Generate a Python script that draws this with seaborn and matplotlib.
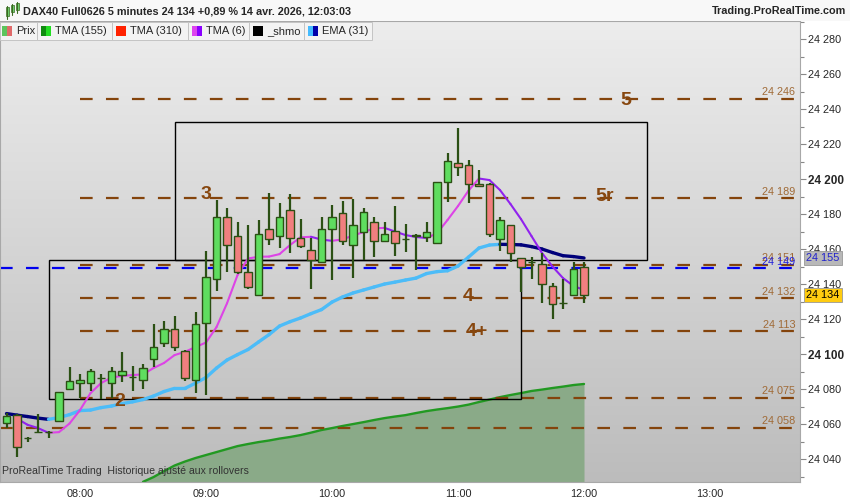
import numpy as np
import pandas as pd
import matplotlib
matplotlib.use("Agg")
import matplotlib.pyplot as plt
import seaborn as sns
from matplotlib.patches import Rectangle
from matplotlib.collections import LineCollection
from matplotlib.colors import LinearSegmentedColormap
from matplotlib.ticker import MultipleLocator, FuncFormatter

# ---------------- data ----------------
times = pd.date_range("2026-04-14 07:25", "2026-04-14 12:00", freq="5min")

opens = [24060.4, 24065.0, 24052.2, 24055.6, 24055.5, 24061.5, 24080.2, 24083.2,
         24083.2, 24086.5, 24083.2, 24088.2, 24087.0, 24085.1, 24097.0, 24106.1,
         24114.1, 24101.9, 24085.0, 24117.9, 24142.7, 24178.1, 24167.2, 24146.7,
         24133.5, 24171.3, 24167.2, 24182.1, 24166.1, 24159.3, 24152.6, 24171.3,
         24180.4, 24162.1, 24169.5, 24175.2, 24164.4, 24170.1, 24165.9, 24167.6,
         24166.7, 24163.2, 24198.1, 24208.9, 24207.8, 24196.9, 24196.9, 24165.5,
         24173.5, 24154.7, 24152.8, 24151.2, 24138.7, 24129.3, 24133.5, 24149.5]
highs = [24066.1, 24066.0, 24052.5, 24065.5, 24056.0, 24078.5, 24092.4, 24088.4,
         24091.4, 24088.4, 24092.4, 24101.1, 24093.1, 24094.3, 24117.0, 24118.9,
         24121.7, 24102.5, 24123.8, 24158.9, 24188.0, 24183.2, 24175.2, 24173.5,
         24176.4, 24191.8, 24186.1, 24191.4, 24177.1, 24166.1, 24178.3, 24185.1,
         24187.4, 24188.4, 24183.2, 24178.3, 24175.2, 24184.6, 24174.3, 24168.5,
         24175.2, 24198.5, 24214.7, 24229.0, 24210.9, 24205.0, 24197.5, 24178.1,
         24174.0, 24155.0, 24155.4, 24157.5, 24140.4, 24142.7, 24152.4, 24152.4]
lows = [24057.5, 24041.3, 24049.5, 24055.0, 24052.0, 24061.0, 24080.0, 24074.7,
        24079.0, 24074.3, 24075.0, 24084.2, 24079.0, 24080.0, 24092.7, 24103.8,
        24101.9, 24084.4, 24077.9, 24076.4, 24135.8, 24146.7, 24146.0, 24137.3,
        24133.0, 24162.1, 24160.4, 24157.5, 24160.4, 24137.3, 24151.8, 24142.5,
        24162.1, 24143.6, 24153.7, 24155.2, 24164.0, 24156.0, 24158.5, 24148.0,
        24164.2, 24163.0, 24187.0, 24202.0, 24186.1, 24195.5, 24167.0, 24158.7,
        24152.4, 24135.6, 24142.7, 24129.3, 24119.8, 24125.5, 24133.0, 24129.0]
closes = [24064.6, 24046.7, 24052.2, 24055.6, 24055.5, 24078.1, 24084.4, 24085.1,
          24090.3, 24086.5, 24090.3, 24090.3, 24087.0, 24092.2, 24103.8, 24114.1,
          24103.8, 24086.1, 24117.0, 24143.8, 24178.1, 24162.1, 24146.9, 24138.5,
          24168.4, 24165.5, 24178.1, 24166.1, 24161.5, 24153.7, 24171.3, 24178.1,
          24164.4, 24173.5, 24180.9, 24164.4, 24168.4, 24163.2, 24165.9, 24168.0,
          24169.5, 24198.1, 24210.1, 24206.7, 24196.9, 24195.8, 24168.4, 24176.6,
          24157.5, 24149.5, 24152.8, 24139.8, 24128.7, 24129.3, 24148.4, 24134.0]

# TMA (6) from bar 1
tma6 = [24063.1, 24059.6, 24057.7, 24055.0, 24055.4, 24060.3, 24068.0, 24077.7,
        24083.4, 24086.6, 24087.5, 24088.0, 24088.4, 24092.0, 24094.9, 24099.4,
        24101.3, 24104.0, 24106.6, 24115.4, 24129.0, 24145.1, 24154.6, 24155.6,
        24155.7, 24157.1, 24162.3, 24166.7, 24167.0, 24165.4, 24164.7, 24165.5,
        24167.7, 24169.7, 24171.8, 24172.1, 24170.0, 24168.0, 24166.9, 24166.3,
        24169.0, 24176.6, 24184.6, 24193.4, 24200.3, 24199.4, 24193.7, 24185.7,
        24177.1, 24167.4, 24157.7, 24150.0, 24143.4, 24138.9, 24136.6]
# EMA (31) from bar 0
ema31 = [24066.0, 24065.1, 24064.3, 24063.4, 24062.7, 24063.7, 24065.4, 24067.7,
         24068.0, 24069.4, 24070.3, 24071.7, 24072.7, 24074.0, 24076.0, 24078.6,
         24080.4, 24080.4, 24083.4, 24086.6, 24092.0, 24096.6, 24099.7, 24102.6,
         24106.9, 24111.1, 24116.0, 24118.5, 24120.6, 24123.1, 24125.4, 24129.7,
         24132.6, 24134.9, 24136.6, 24138.3, 24140.0, 24141.1, 24142.3, 24143.4,
         24146.0, 24147.1, 24147.6, 24150.3, 24155.4, 24160.6, 24162.3, 24162.7,
         24162.6, 24162.4, 24161.4, 24160.0, 24158.0, 24156.2, 24155.7, 24154.9]
# TMA (155) from bar 13
tma155 = [24027.0, 24029.7, 24033.1, 24036.3, 24038.6, 24040.6, 24042.3, 24044.0,
          24045.7, 24047.4, 24048.6, 24049.7, 24050.6, 24051.7, 24052.6, 24053.7,
          24055.1, 24056.6, 24057.7, 24058.9, 24060.0, 24061.1, 24062.3, 24063.4,
          24064.3, 24065.1, 24066.3, 24067.4, 24068.3, 24069.1, 24070.0, 24071.1,
          24072.6, 24074.0, 24075.4, 24076.6, 24077.7, 24078.9, 24079.7, 24080.6,
          24081.4, 24082.3, 24082.9]

level_prices = [24246, 24189, 24151, 24132, 24113, 24075, 24058]
level_start = ["08:00", "08:00", "08:00", "08:00", "08:00", "08:00", None]
blue_level = 24149

zone_start = ["07:45", "08:45"]
zone_end = ["11:30", "12:30"]
zone_low = [24074.3, 24153.7]
zone_high = [24153.7, 24232.6]

tags = ["5", "5r", "3", "4", "4+", "2"]
tag_time = ["12:20", "12:10", "09:00", "11:05", "11:09", "08:19"]
tag_price = [24245, 24190, 24191, 24133, 24113, 24073]

tick_times = ["08:00", "09:00", "10:00", "11:00", "12:00", "13:00"]
last_price = 24134
ema_tag = 24155

# ---------------- helpers ----------------
t0 = times[0]
def idx(hhmm):
    t = pd.Timestamp("2026-04-14 " + hhmm)
    return (t - t0) / pd.Timedelta("5min")

def fmt(v):
    return f"{int(round(v)):,}".replace(",", " ")

W, H = 850, 500
sns.set_style("white")
plt.rcParams["font.family"] = ["Liberation Sans", "DejaVu Sans"]
plt.rcParams["lines.scale_dashes"] = False

fig = plt.figure(figsize=(8.5, 5), dpi=100)
fig.patch.set_facecolor("white")
ax = fig.add_axes([0, 1 - 482 / H, 800 / W, (482 - 21) / H])

x0, x1 = -0.62, 75.57
y0, y1 = 24026.9, 24290.3

# gradient background
cmap_bg = LinearSegmentedColormap.from_list("bg", ["#ededed", "#bcbcbc"])
ax.imshow(np.linspace(0, 1, 256).reshape(-1, 1), cmap=cmap_bg, aspect="auto",
          extent=(0, 1, 0, 1), transform=ax.transAxes, zorder=0)

n = len(times)
xs = np.arange(n)

# TMA 155 with fill
x155 = xs[n - len(tma155):]
ax.fill_between(x155, tma155, y0 - 5, color="#8aaa88", zorder=1, lw=0)
sns.lineplot(x=x155, y=tma155, ax=ax, color="#229922", lw=1.7, zorder=2)

# horizontal levels
for p, s in zip(level_prices, level_start):
    xa = idx(s) if s else x0
    ax.plot([xa, x1], [p, p], color="#84440c", lw=1.6, dashes=(9.1, 9.6), zorder=2)
    ax.annotate(fmt(p), xy=(0.994, p), xycoords=ax.get_yaxis_transform(),
                xytext=(0, 1), textcoords="offset points", ha="right", va="bottom",
                fontsize=7.8, color="#a06a36", zorder=6)
ax.plot([x0, x1], [blue_level, blue_level], color="#0000ee", lw=1.6,
        dashes=(9.1, 9.6), zorder=2)
ax.annotate(fmt(blue_level), xy=(0.994, blue_level), xycoords=ax.get_yaxis_transform(),
            xytext=(0, 1), textcoords="offset points", ha="right", va="bottom",
            fontsize=7.8, color="#2020dd", zorder=6)

# zones
for s, e, lo, hi in zip(zone_start, zone_end, zone_low, zone_high):
    a, b = idx(s), idx(e)
    ax.add_patch(Rectangle((a, lo), b - a, hi - lo, fill=False, ec="black",
                           lw=1.0, zorder=3))

# slope-coloured moving averages
def slope_line(xv, yv, up, down, lw, z):
    pts = np.column_stack([xv, yv])
    segs = np.stack([pts[:-1], pts[1:]], axis=1)
    cols = [up if b >= a else down for a, b in zip(yv[:-1], yv[1:])]
    ax.add_collection(LineCollection(segs, colors=cols, linewidths=lw,
                                     capstyle="round", joinstyle="round", zorder=z))

slope_line(xs[n - len(ema31):], np.array(ema31), "#4cbcf8", "#00007a", 2.4, 3.5)
slope_line(xs[n - len(tma6):], np.array(tma6), "#dd44e6", "#9122ee", 1.5, 3.6)

# candles
bw = 0.74
for i in range(n):
    o, h, l, c = opens[i], highs[i], lows[i], closes[i]
    ax.plot([i, i], [l, h], color="#2b5014", lw=1.6, zorder=4, solid_capstyle="butt")
    col = "#5fdd5f" if c >= o else "#f17f7f"
    ax.add_patch(Rectangle((i - bw / 2, min(o, c)), bw, abs(c - o), fc=col,
                           ec="#2b5014", lw=1.0, zorder=5))

# level tags
for t, tt, tp in zip(tags, tag_time, tag_price):
    ax.text(idx(tt), tp, t, ha="center", va="center", fontsize=14,
            fontweight="bold", color="#87470f", zorder=6)

ax.text(0.003, 0.018, "ProRealTime Trading  Historique ajusté aux rollovers",
        transform=ax.transAxes, fontsize=7.6, color="#333333", zorder=6)

# axes
ax.set_xlim(x0, x1)
ax.set_ylim(y0, y1)
ax.set_xticks([idx(t) for t in tick_times])
ax.set_xticklabels(tick_times)
ax.yaxis.tick_right()
ax.yaxis.set_major_locator(MultipleLocator(20))
ax.yaxis.set_minor_locator(MultipleLocator(10))
ax.yaxis.set_major_formatter(FuncFormatter(lambda v, p: fmt(v)))
ax.tick_params(axis="y", which="major", length=4, width=0.8, color="#888888",
               labelsize=7.8, pad=2, direction="out")
ax.tick_params(axis="y", which="minor", length=3, width=0.8, color="#888888")
ax.tick_params(axis="x", length=4, width=0.8, color="#888888", labelsize=7.8,
               pad=1, direction="out")
for lab in ax.get_yticklabels():
    if lab.get_text() in ("24 100", "24 200"):
        lab.set_fontweight("bold")
        lab.set_fontsize(8.5)
for sp in ax.spines.values():
    sp.set_color("#a8a8a8")
    sp.set_linewidth(0.8)

ytf = ax.get_yaxis_transform()
ax.text(1.008, ema_tag, fmt(ema_tag), transform=ytf, va="center", ha="left",
        fontsize=7.8, color="#2020cc", clip_on=False, zorder=7,
        bbox=dict(boxstyle="square,pad=0.18", fc="#b8b8b8", ec="#999999", lw=0.6))
ax.text(1.008, last_price, fmt(last_price), transform=ytf, va="center", ha="left",
        fontsize=7.8, color="black", clip_on=False, zorder=7,
        bbox=dict(boxstyle="square,pad=0.18", fc="#ffcc10", ec="#999999", lw=0.6))

# header
fig.add_artist(Rectangle((0, 1 - 21 / H), 1, 21 / H, transform=fig.transFigure,
                         fc="#f8f8f8", ec="none"))
fig.add_artist(Rectangle((0, 1 - 21 / H), 1, 0.001, transform=fig.transFigure,
                         fc="#b0b0b0", ec="none"))
for cx, cb, ct in [(7, 7, 16), (12, 5, 12), (17, 3, 10)]:
    fig.add_artist(plt.Line2D([cx / W, cx / W], [1 - (ct + 3) / H, 1 - (cb - 1) / H],
                              color="#3a6a20", lw=0.8, transform=fig.transFigure))
    fig.add_artist(Rectangle(((cx - 1.5) / W, 1 - ct / H), 3 / W, (ct - cb) / H,
                             transform=fig.transFigure, fc="#6fd46f", ec="#3a6a20", lw=0.5))
fig.text(23 / W, 1 - 11 / H, "DAX40 Full0626 5 minutes 24 134 +0,89 % 14 avr. 2026, 12:03:03",
         fontsize=7.8, fontweight="bold", va="center", ha="left")
fig.text(846 / W, 1 - 11 / H, "Trading.ProRealTime.com", fontsize=7.8,
         fontweight="bold", va="center", ha="right")

# legend strip
legend_items = ["Prix", "TMA (155)", "TMA (310)", "TMA (6)", "_shmo", "EMA (31)"]
legend_colors = [("#5cc45c", "#e06a6a"), ("#0f8a0f", "#22dd22"), ("#ff2200", "#ff2200"),
                 ("#dd44ee", "#8a00ff"), ("#000000", "#000000"), ("#44bbff", "#0000aa")]
edges = [0, 37, 112, 188, 249, 304, 372]
for k, (name, (ca, cb)) in enumerate(zip(legend_items, legend_colors)):
    a, b = edges[k], edges[k + 1]
    sw = 2 if k == 0 else a + 4
    tx = 16 if k == 0 else a + 18
    fig.add_artist(Rectangle((a / W, 1 - 40 / H), (b - a) / W, 18 / H,
                             transform=fig.transFigure, fc="#f3f3f3", ec="#c4c4c4", lw=0.7))
    fig.add_artist(Rectangle((sw / W, 1 - 36 / H), 5 / W, 10 / H,
                             transform=fig.transFigure, fc=ca, ec="none"))
    fig.add_artist(Rectangle(((sw + 5) / W, 1 - 36 / H), 5 / W, 10 / H,
                             transform=fig.transFigure, fc=cb, ec="none"))
    fig.text(tx / W, 1 - 31 / H, name, fontsize=8, va="center", ha="left")

fig.savefig("out.png", dpi=100)
